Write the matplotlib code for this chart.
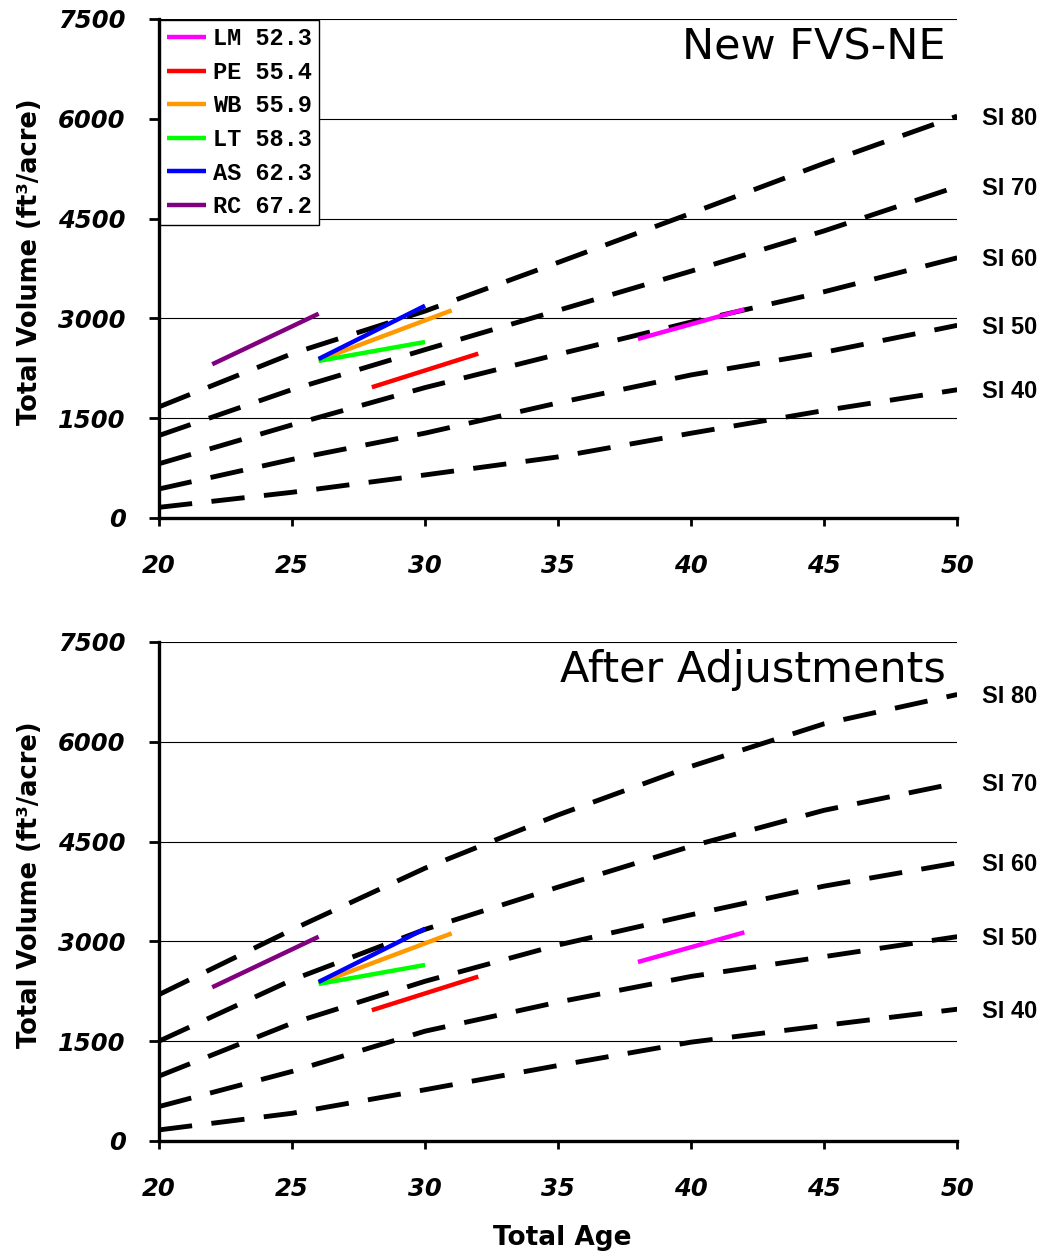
# Volumen total vs. edad: curvas SI (antes / después de ajustes) y segmentos por especie
import matplotlib
matplotlib.use("Agg")
import matplotlib.pyplot as plt

# edades de las curvas de índice de sitio
ages = [20, 25, 30, 35, 40, 45, 50]
si_names = ["SI 80", "SI 70", "SI 60", "SI 50", "SI 40"]

# panel superior: New FVS-NE
si80_new = [1670, 2470, 3110, 3840, 4580, 5330, 6040]
si70_new = [1240, 1930, 2530, 3120, 3710, 4315, 4980]
si60_new = [815, 1400, 1960, 2460, 2945, 3400, 3910]
si50_new = [436, 880, 1275, 1730, 2150, 2490, 2895]
si40_new = [160, 386, 647, 918, 1274, 1615, 1927]

# panel inferior: After Adjustments
si80_adj = [2200, 3175, 4100, 4900, 5630, 6270, 6710]
si70_adj = [1500, 2420, 3180, 3815, 4430, 4970, 5380]
si60_adj = [975, 1770, 2400, 2945, 3400, 3830, 4180]
si50_adj = [517, 1045, 1650, 2087, 2473, 2770, 3070]
si40_adj = [166, 416, 770, 1134, 1485, 1736, 1980]

# segmentos observados por especie
species = ["LM", "PE", "WB", "LT", "AS", "RC"]
species_si = [52.3, 55.4, 55.9, 58.3, 62.3, 67.2]
seg_age0 = [38, 28, 26, 26, 26, 22]
seg_age1 = [42, 32, 31, 30, 30, 26]
seg_vol0 = [2690, 1965, 2370, 2360, 2390, 2310]
seg_vol1 = [3135, 2470, 3120, 2645, 3190, 3070]
colors = ["#ff00ff", "#ff0000", "#ff9900", "#00ff00", "#0000ff", "#800080"]

yticks = [0, 1500, 3000, 4500, 6000, 7500]
xticks = [20, 25, 30, 35, 40, 45, 50]

plt.rcParams["font.family"] = ["DejaVu Sans"]
plt.rcParams["lines.scale_dashes"] = False

fig = plt.figure(figsize=(10.42, 12.56), dpi=100)
ax1 = fig.add_axes([0.1526, 0.5876, 0.766, 0.3973])
ax2 = fig.add_axes([0.1526, 0.0916, 0.766, 0.3973])


def draw_panel(ax, curves, title, legend):
    for c in curves:
        ax.plot(ages, c, color="black", lw=3.5, dashes=(24, 14), zorder=3,
                dash_capstyle="butt")
    for name, c in zip(si_names, curves):
        ax.text(50.93, c[-1] - 30, name, fontsize=17, fontweight="bold",
                family=["Liberation Sans", "DejaVu Sans"],
                va="center", ha="left", clip_on=False)
    for i in range(len(species)):
        ax.plot([seg_age0[i], seg_age1[i]], [seg_vol0[i], seg_vol1[i]],
                color=colors[i], lw=3.2, zorder=4, solid_capstyle="butt",
                label=f"{species[i]} {species_si[i]}")
    ax.set_xlim(20, 50)
    ax.set_ylim(0, 7500)
    ax.set_xticks(xticks)
    ax.set_yticks(yticks)
    ax.set_xticklabels([str(t) for t in xticks], fontsize=17.5,
                       fontweight="bold", fontstyle="italic")
    ax.set_yticklabels([str(t) for t in yticks], fontsize=17.5,
                       fontweight="bold", fontstyle="italic")
    ax.grid(axis="y", color="black", lw=0.8, zorder=1)
    ax.set_axisbelow(True)
    for s in ["top", "right"]:
        ax.spines[s].set_visible(False)
    for s in ["left", "bottom"]:
        ax.spines[s].set_linewidth(2.4)
    ax.tick_params(axis="x", length=6, width=2, pad=20, direction="out")
    ax.tick_params(axis="y", length=7, width=2, pad=17, direction="out")
    ax.set_ylabel("Total Volume (ft³/acre)", fontsize=18.5, fontweight="bold")
    ax.yaxis.set_label_coords(-0.145, 0.514)
    ax.text(0.986, 0.985, title, transform=ax.transAxes, ha="right",
            va="top", fontsize=31)
    if legend:
        leg = ax.legend(loc="upper left", borderaxespad=0.05, fancybox=False,
                        framealpha=1, edgecolor="black", handlelength=1.65,
                        handletextpad=0.3, labelspacing=0.45, borderpad=0.3,
                        prop={"family": "Liberation Mono", "weight": "bold",
                              "size": 17})
        leg.get_frame().set_linewidth(1.0)
        leg.set_zorder(5)


draw_panel(ax1, [si80_new, si70_new, si60_new, si50_new, si40_new],
           "New FVS-NE", True)
draw_panel(ax2, [si80_adj, si70_adj, si60_adj, si50_adj, si40_adj],
           "After Adjustments", False)
ax2.set_xlabel("Total Age", fontsize=19, fontweight="bold")
ax2.xaxis.set_label_coords(0.5056, -0.168)

fig.savefig("out.png", dpi=100)
